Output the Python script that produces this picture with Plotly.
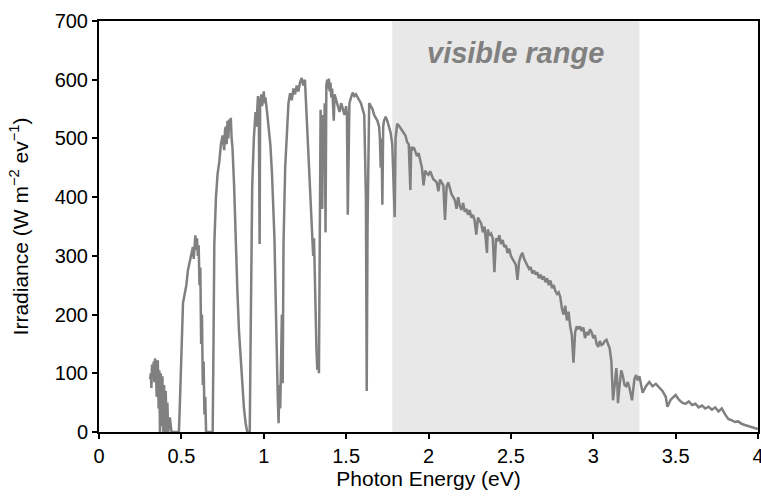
import plotly.graph_objects as go

# Photon energy (eV) and irradiance (W m^-2 eV^-1)
energy = [
    0.310, 0.315, 0.318, 0.322, 0.327, 0.332, 0.336, 0.340, 0.345, 0.350,
    0.353, 0.357, 0.362, 0.366, 0.370, 0.375, 0.380, 0.385, 0.390, 0.395,
    0.400, 0.405, 0.410, 0.415, 0.420, 0.430, 0.440, 0.460, 0.485,
    0.490, 0.500, 0.505, 0.510, 0.520, 0.530, 0.540, 0.550, 0.560, 0.570,
    0.575, 0.580, 0.585, 0.590, 0.595, 0.600, 0.605, 0.610, 0.615, 0.620,
    0.625, 0.630, 0.635, 0.640, 0.645, 0.650, 0.670, 0.690,
    0.695, 0.700, 0.710, 0.720, 0.730, 0.740, 0.750, 0.760, 0.765, 0.770,
    0.775, 0.780, 0.785, 0.790, 0.795, 0.800, 0.805, 0.810, 0.820, 0.830,
    0.840, 0.850, 0.860, 0.870, 0.880, 0.890, 0.900, 0.912,
    0.915, 0.920, 0.925, 0.930, 0.940, 0.950, 0.955, 0.960, 0.965, 0.970,
    0.975, 0.978, 0.985, 0.990, 1.000, 1.005, 1.010, 1.020, 1.030, 1.040,
    1.050, 1.055, 1.060, 1.065, 1.070, 1.075, 1.080, 1.085, 1.090, 1.095,
    1.100, 1.105, 1.110, 1.115, 1.120, 1.130, 1.140, 1.150, 1.160, 1.170,
    1.180, 1.190, 1.200, 1.210, 1.220, 1.230, 1.240, 1.250, 1.255, 1.260,
    1.270, 1.280, 1.290, 1.300, 1.305, 1.310, 1.315, 1.320, 1.325, 1.330,
    1.335, 1.340, 1.345, 1.350, 1.355, 1.360, 1.365, 1.370, 1.375, 1.380,
    1.385, 1.390, 1.395, 1.400, 1.405, 1.410, 1.415, 1.420, 1.425, 1.430,
    1.440, 1.450, 1.460, 1.470, 1.480, 1.490, 1.500, 1.505, 1.510, 1.515,
    1.520, 1.530, 1.540, 1.550, 1.560, 1.570, 1.580, 1.590, 1.600, 1.610,
    1.620, 1.625, 1.630, 1.635, 1.640, 1.650, 1.660, 1.670, 1.680, 1.690,
    1.700, 1.705, 1.710, 1.715, 1.720, 1.725, 1.730, 1.740, 1.750, 1.760,
    1.770, 1.780, 1.785, 1.790, 1.795, 1.800, 1.810, 1.820, 1.830, 1.840,
    1.850, 1.860, 1.870, 1.880, 1.890, 1.895, 1.900, 1.910, 1.920, 1.930,
    1.940, 1.950, 1.960, 1.970, 1.980, 1.990, 2.000, 2.010, 2.020, 2.030,
    2.040, 2.050, 2.060, 2.070, 2.080, 2.090, 2.100, 2.110, 2.120, 2.130,
    2.140, 2.150, 2.160, 2.170, 2.180, 2.190, 2.200, 2.210, 2.220, 2.230,
    2.240, 2.250, 2.260, 2.270, 2.280, 2.290, 2.300, 2.310, 2.320, 2.330,
    2.340, 2.355, 2.360, 2.370, 2.380, 2.390, 2.400, 2.410, 2.420, 2.430,
    2.440, 2.450, 2.460, 2.470, 2.480, 2.490, 2.500, 2.510, 2.520, 2.530,
    2.540, 2.550, 2.560, 2.570, 2.580, 2.590, 2.600, 2.610, 2.620, 2.630,
    2.640, 2.650, 2.660, 2.670, 2.680, 2.690, 2.700, 2.710, 2.720, 2.730,
    2.740, 2.750, 2.760, 2.770, 2.780, 2.790, 2.800, 2.810, 2.820, 2.830,
    2.840, 2.850, 2.860, 2.870, 2.880, 2.890, 2.900, 2.910, 2.920, 2.930,
    2.940, 2.950, 2.960, 2.970, 2.980, 2.990, 3.000, 3.010, 3.020, 3.030,
    3.040, 3.050, 3.060, 3.070, 3.080, 3.090, 3.100, 3.110, 3.120, 3.130,
    3.140, 3.145, 3.150, 3.160, 3.170, 3.180, 3.190, 3.200, 3.210, 3.220,
    3.235, 3.250, 3.260, 3.270, 3.280, 3.300, 3.320, 3.340, 3.360, 3.380,
    3.400, 3.420, 3.440, 3.450, 3.470, 3.500, 3.520, 3.540, 3.560, 3.580,
    3.600, 3.620, 3.640, 3.660, 3.680, 3.700, 3.720, 3.740, 3.760, 3.780,
    3.800, 3.820, 3.840, 3.860, 3.880, 3.900, 3.920, 3.940, 3.960, 3.980,
    4.000,
]
irradiance = [
    90, 100, 75, 115, 95, 120, 85, 125, 118, 60,
    110, 122, 40, 105, 0, 100, 10, 95, 0, 80,
    0, 70, 0, 50, 0, 25, 0, 0, 0,
    40, 130, 175, 220, 235, 250, 276, 290, 300, 315,
    295, 320, 335, 310, 330, 300, 318, 250, 280, 150,
    200, 80, 120, 30, 60, 0, 0, 0,
    150, 320, 400, 440, 460, 490, 505, 480, 515, 520,
    490, 530, 500, 532, 520, 535, 500, 485, 420, 320,
    240, 170, 120, 70, 40, 15, 0, 0,
    0, 150, 300, 420, 500, 545, 520, 565, 572, 540,
    320, 560, 575, 555, 580, 560, 570, 545, 520, 490,
    440, 400, 380, 330, 260, 180, 120, 60, 15, 80,
    40, 140, 200, 83, 320, 450, 520, 560, 577, 565,
    585, 575, 590, 580, 595, 603, 590, 600, 570, 540,
    480, 420, 350, 300, 330, 240, 200, 140, 106, 130,
    100, 350, 549, 480, 380, 540, 450, 560, 340, 590,
    600, 585, 602, 580, 595, 570, 585, 560, 530, 575,
    565, 555, 545, 560, 550, 540, 555, 540, 370, 540,
    560, 570, 578, 572, 575, 570, 565, 560, 550, 540,
    400, 70, 350, 540, 560, 555, 550, 540, 535, 530,
    520, 500, 450, 500, 387, 520, 530, 537, 530, 520,
    510, 490, 450, 430, 366, 500, 525, 522, 518, 515,
    510, 505, 494, 490, 412, 486, 480, 485, 478, 470,
    475, 462, 450, 420, 445, 440, 438, 444, 435, 430,
    428, 425, 410, 430, 425, 420, 361, 418, 425, 415,
    405, 400, 395, 380, 400, 385, 378, 390, 375, 380,
    370, 378, 365, 370, 360, 336, 365, 360, 355, 340,
    350, 305, 345, 335, 338, 330, 272, 330, 325, 335,
    320, 327, 315, 318, 305, 312, 300, 295, 290, 285,
    259, 290, 300, 305, 295, 290, 285, 278, 281, 270,
    275, 268, 272, 262, 268, 260, 265, 255, 262, 250,
    258, 245, 250, 240, 235, 238, 230, 210, 200, 215,
    190, 205, 180, 165, 118, 170, 180, 175, 180, 172,
    178, 160, 170, 165, 175, 170, 160, 165, 150, 145,
    155, 148, 150, 155, 157, 150, 142, 120, 54, 80,
    109, 90, 49, 80, 105, 95, 80, 78, 85, 75,
    54, 90, 97, 88, 95, 67, 78, 85, 78, 82,
    75, 70, 60, 43, 55, 63, 55, 50, 48, 52,
    46, 48, 42, 45, 40, 43, 38, 42, 35, 40,
    30, 22, 20, 17, 18, 14, 12, 10, 9, 7,
    5,
]

visible_range = [1.78, 3.28]   # eV
x_ticks = [0, 0.5, 1, 1.5, 2, 2.5, 3, 3.5, 4]
y_ticks = [0, 100, 200, 300, 400, 500, 600, 700]

FONT = "Liberation Sans, Arial, Helvetica, sans-serif"

fig = go.Figure()
fig.add_trace(go.Scatter(
    x=energy, y=irradiance, mode="lines",
    line=dict(color="#808080", width=2.5),
    hoverinfo="skip", showlegend=False,
))

fig.add_shape(
    type="rect", xref="x", yref="paper",
    x0=visible_range[0], x1=visible_range[1], y0=0, y1=1,
    fillcolor="#e8e8e8", line=dict(width=0), layer="below",
)
fig.add_annotation(
    x=(visible_range[0] + visible_range[1]) / 2, y=0.922, xref="x", yref="paper",
    xanchor="center", yanchor="middle",
    text="<b><i>visible range</i></b>", showarrow=False,
    font=dict(family=FONT, size=29, color="#808080"),
)

axis_common = dict(
    showgrid=False, zeroline=False, showline=True, linecolor="black",
    linewidth=2, mirror=True, ticks="outside", ticklen=5, tickwidth=2,
    tickcolor="black", automargin=False, ticklabeloverflow="allow",
    tickfont=dict(family=FONT, size=20, color="black"),
)
fig.update_xaxes(
    range=[0, 4], tickvals=x_ticks, ticktext=[f"{t:g}" for t in x_ticks],
    title=dict(text="Photon Energy (eV)", font=dict(family=FONT, size=21, color="black"), standoff=3),
    **axis_common,
)
fig.update_yaxes(
    range=[0, 700], tickvals=y_ticks,
    title=dict(text="Irradiance (W m<sup>−2</sup> ev<sup>−1</sup>)",
               font=dict(family=FONT, size=21, color="black"), standoff=20),
    **axis_common,
)
fig.update_layout(
    width=761, height=499,
    margin=dict(l=99, r=3, t=21, b=67),
    paper_bgcolor="white", plot_bgcolor="white",
    font=dict(family=FONT),
)
# remove the browser's default 8 px body margin so the figure fills the window
fig.write_html(
    "out.html",
    config={"displayModeBar": False},
    post_script="document.body.style.margin='0px';",
)
